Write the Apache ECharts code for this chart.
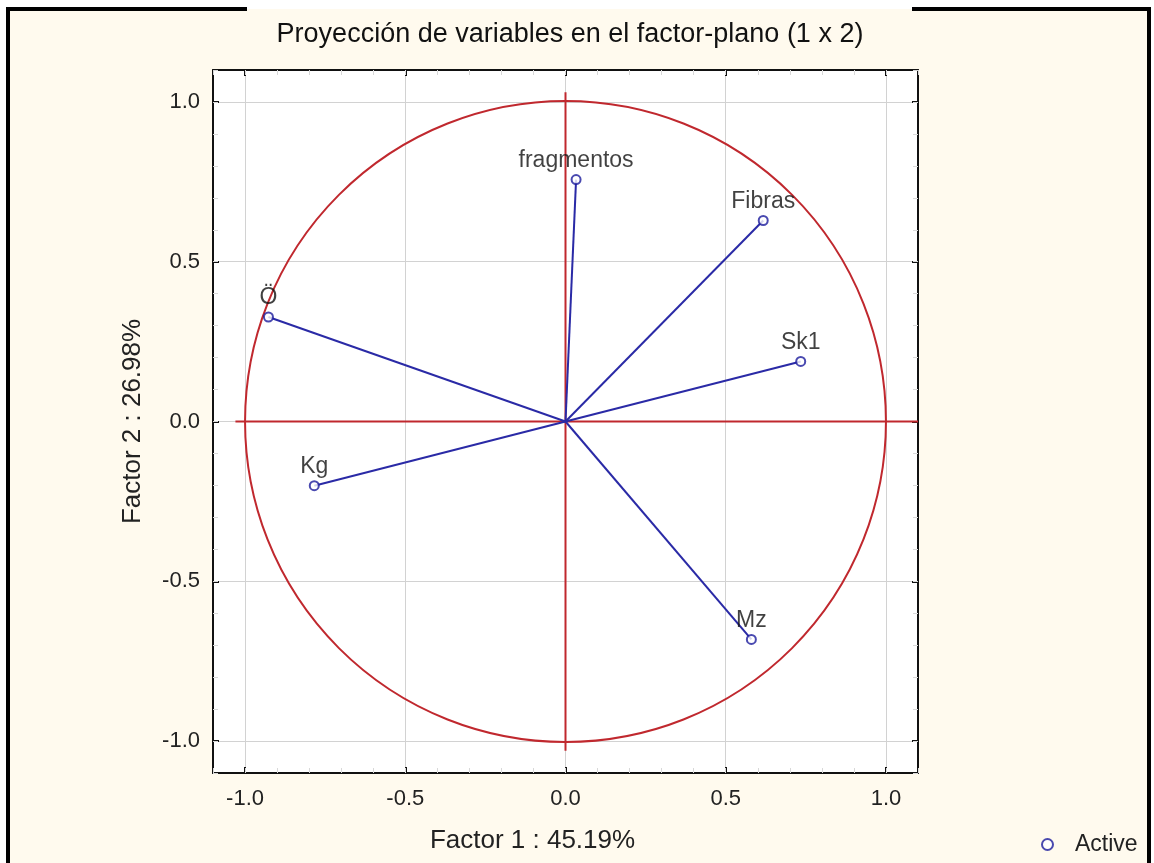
<!DOCTYPE html>
<html>
<head>
<meta charset="utf-8">
<title>Proyección de variables</title>
<script src="https://cdn.jsdelivr.net/npm/echarts@6/dist/echarts.min.js"></script>
<style>
  html, body { margin: 0; padding: 0; background: #ffffff; }
  #chart { width: 1154px; height: 863px; }
</style>
</head>
<body>
<div id="chart"></div>
<script>
// Variable loadings on factors 1 and 2
const varNames = ['fragmentos', 'Fibras', 'Sk1', 'Ö', 'Kg', 'Mz'];
const factor1 = [0.033, 0.617, 0.734, -0.927, -0.784, 0.580];
const factor2 = [0.757, 0.629, 0.188, 0.327, -0.201, -0.682];

// Axis ticks
const majorTicks = [-1.0, -0.5, 0.0, 0.5, 1.0];
const axisMin = -1.1;
const axisMax = 1.1;

// Unit circle and the reference cross through the origin
const circleRadius = 1;
const crossH = [[-1.03, 0], [1.1, 0]];
const crossV = [[0, -1.03], [0, 1.03]];

const titleText = 'Proyección de variables en el factor-plano (1 x 2)';
const xName = 'Factor 1 : 45.19%';
const yName = 'Factor 2 : 26.98%';

const FONT = '"Liberation Sans", Arial, sans-serif';
const RED = '#c0282e';
const BLUE = '#2a2aa6';
const CREAM = '#fffaee';
const TEXT = '#222222';

const chart = echarts.init(document.getElementById('chart'), null, { renderer: 'canvas' });

function majorAxis(pos, withLabels, name, extra) {
  return Object.assign({
    type: 'value',
    position: pos,
    min: axisMin,
    max: axisMax,
    axisLine: { show: true, onZero: false, lineStyle: { color: '#111', width: 2 } },
    axisTick: { show: true, inside: true, length: 6, customValues: majorTicks,
                lineStyle: { color: '#111', width: 2 } },
    axisLabel: { show: withLabels, customValues: majorTicks, fontFamily: FONT, fontSize: 22,
                 color: TEXT, margin: pos === 'bottom' ? 15 : 13,
                 formatter: v => v.toFixed(1) },
    splitLine: { show: withLabels, lineStyle: { color: '#d2d2d2', width: 1 } },
    name: name || '',
  }, extra || {});
}

function minorAxis(pos) {
  return {
    type: 'value',
    position: pos,
    min: axisMin,
    max: axisMax,
    interval: 0.1,
    axisLine: { show: false, onZero: false },
    axisTick: { show: true, inside: true, length: 5, lineStyle: { color: '#d8d8d8', width: 1 } },
    axisLabel: { show: false },
    splitLine: { show: false }
  };
}

const vectorSeries = varNames.map((n, i) => ({
  type: 'line',
  name: 'v_' + n,
  xAxisIndex: 0,
  yAxisIndex: 0,
  data: [[0, 0], [factor1[i], factor2[i]]],
  symbol: 'none',
  lineStyle: { color: BLUE, width: 2 },
  z: 5,
  silent: true
}));

const option = {
  backgroundColor: 'transparent',
  animation: false,
  title: {
    text: titleText,
    left: 565,
    textAlign: 'center',
    top: 16,
    textStyle: { fontFamily: FONT, fontSize: 27, fontWeight: 'normal', color: '#111' }
  },
  legend: {
    data: [{ name: 'Active', icon: 'emptyCircle' }],
    left: 1036,
    top: 828,
    itemWidth: 11,
    itemHeight: 11,
    itemGap: 8,
    textStyle: { fontFamily: FONT, fontSize: 23, color: TEXT, padding: [0, 0, 0, 17] }
  },
  graphic: [
    { type: 'rect', shape: { x: 9, y: 9, width: 1139, height: 860 }, style: { fill: CREAM }, z: -100, silent: true },
    { type: 'line', shape: { x1: 8, y1: 7, x2: 8, y2: 863 }, style: { stroke: '#000', lineWidth: 4 }, z: 100, silent: true },
    { type: 'line', shape: { x1: 1149, y1: 7, x2: 1149, y2: 863 }, style: { stroke: '#000', lineWidth: 4 }, z: 100, silent: true },
    { type: 'line', shape: { x1: 6, y1: 9, x2: 247, y2: 9 }, style: { stroke: '#000', lineWidth: 4 }, z: 100, silent: true },
    { type: 'line', shape: { x1: 912, y1: 9, x2: 1151, y2: 9 }, style: { stroke: '#000', lineWidth: 4 }, z: 100, silent: true }
  ],
  grid: {
    left: 213, top: 70, width: 705, height: 703,
    show: true, backgroundColor: '#ffffff', borderWidth: 0
  },
  xAxis: [
    majorAxis('bottom', true, xName, {
      nameLocation: 'middle', nameGap: 55,
      nameTextStyle: { fontFamily: FONT, fontSize: 26, color: TEXT, padding: [0, 66, 0, 0] }
    }),
    majorAxis('top', false),
    minorAxis('bottom'),
    minorAxis('top')
  ],
  yAxis: [
    majorAxis('left', true, yName, {
      nameLocation: 'middle', nameGap: 67, nameRotate: 90,
      nameTextStyle: { fontFamily: FONT, fontSize: 26, color: TEXT }
    }),
    majorAxis('right', false),
    minorAxis('left'),
    minorAxis('right')
  ],
  series: [
    {
      type: 'custom',
      name: 'circle',
      xAxisIndex: 0, yAxisIndex: 0,
      data: [[0, 0, circleRadius]],
      encode: { x: 0, y: 1 },
      silent: true,
      z: 2,
      renderItem: function (params, api) {
        const c = api.coord([api.value(0), api.value(1)]);
        const e = api.coord([api.value(0) + api.value(2), api.value(1)]);
        return {
          type: 'circle',
          shape: { cx: c[0], cy: c[1], r: e[0] - c[0] },
          style: { fill: 'none', stroke: RED, lineWidth: 2 }
        };
      }
    },
    {
      type: 'line', name: 'crossH', xAxisIndex: 0, yAxisIndex: 0,
      data: crossH, symbol: 'none', silent: true, z: 3,
      lineStyle: { color: RED, width: 2 }
    },
    {
      type: 'line', name: 'crossV', xAxisIndex: 0, yAxisIndex: 0,
      data: crossV, symbol: 'none', silent: true, z: 3,
      lineStyle: { color: RED, width: 2 }
    },
    ...vectorSeries,
    {
      type: 'scatter',
      name: 'Active',
      xAxisIndex: 0, yAxisIndex: 0,
      data: varNames.map((n, i) => ({ name: n, value: [factor1[i], factor2[i]] })),
      symbol: 'emptyCircle',
      symbolSize: 9,
      itemStyle: { color: '#1c1c9c', borderColor: '#1c1c9c', borderWidth: 2 },
      label: {
        show: true, position: 'top', distance: 2,
        formatter: p => p.name,
        fontFamily: FONT, fontSize: 23, color: '#111'
      },
      z: 10
    }
  ]
};

chart.setOption(option);
</script>
</body>
</html>
